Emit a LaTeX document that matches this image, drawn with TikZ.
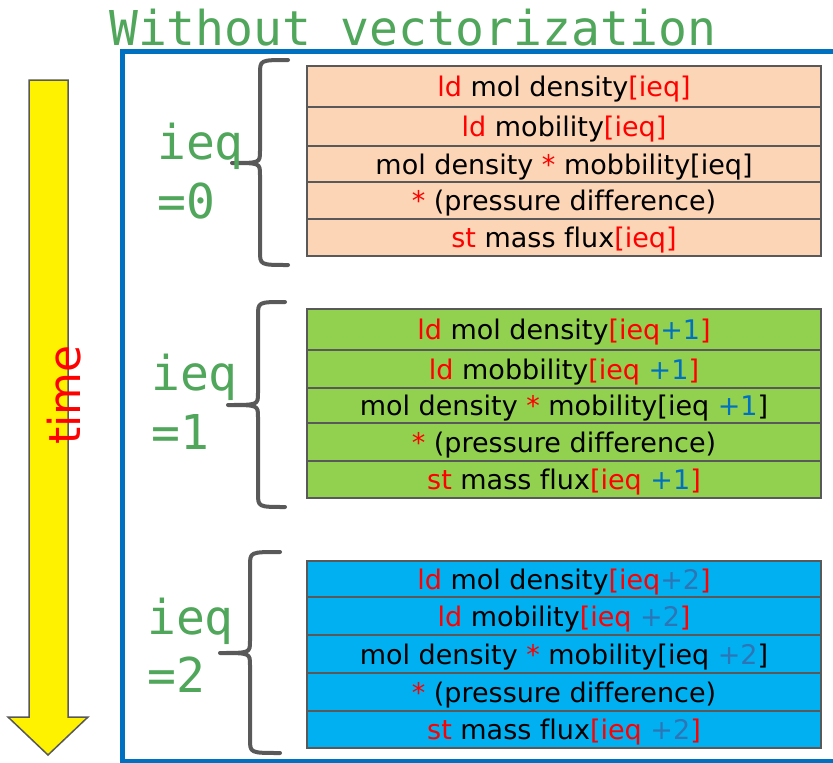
\documentclass[tikz,border=0pt]{standalone}
\usepackage{fontspec}
\setmainfont[Ligatures=NoCommon]{DejaVu Sans}
\newfontfamily\mymono{DejaVu Sans Mono}
\definecolor{titlegreen}{RGB}{80,166,90}
\definecolor{framecol}{RGB}{0,112,192}
\definecolor{gridgray}{RGB}{89,89,89}
\definecolor{peach}{RGB}{251,213,181}
\definecolor{lgreen}{RGB}{146,208,80}
\definecolor{lblue}{RGB}{0,176,240}
\definecolor{plusblue}{RGB}{0,112,192}
\definecolor{plusblueb}{RGB}{46,117,182}
\newcommand\myred[1]{\textcolor{red}{#1}}
\newcommand\myblue[1]{\textcolor{plusblue}{#1}}
\newcommand\mybluet[1]{\textcolor{plusblueb}{#1}}
\newcommand\drawbrace[6]{%
  \draw[bracestyle] (#1,#2) .. controls (#3,#2) .. (#3,#2+14) -- (#3,#5-12)
    .. controls (#3,#5) .. (#4,#5) .. controls (#3,#5) .. (#3,#5+12)
    -- (#3,#6-14) .. controls (#3,#6) .. (#1,#6);}
\begin{document}
\begin{tikzpicture}[x=1pt,y=-1pt,
  rowbox/.style={draw=gridgray, line width=1.5pt, minimum width=514pt, inner sep=0pt,
    text height=24pt, text depth=4pt, font=\fontsize{27}{32}\selectfont},
  peachrow/.style={rowbox, fill=peach},
  greenrow/.style={rowbox, fill=lgreen},
  bluerow/.style={rowbox, fill=lblue},
  bracestyle/.style={draw=gridgray, line width=4pt, line cap=round, line join=round},
  ieqlabel/.style={anchor=base west, inner sep=0pt, text=titlegreen, font=\mymono\fontsize{48}{56}\selectfont}]
\useasboundingbox (0,0) rectangle (833,763);
\fill[white] (0,0) rectangle (833,763);

% title
\node[ieqlabel] (title) at (109,45) {Without vectorization};

% blue frame
\draw[framecol, line width=5pt] (122.5,51.5) rectangle (860,761);

% yellow time arrow
\draw[fill=yellow, draw=gridgray, line width=1.5pt, line join=miter]
  (29,80) -- (68,80) -- (68,717) -- (88,717) -- (48,755) -- (8,717) -- (29,717) -- cycle;
\node[rotate=90, inner sep=0pt, text=red, font=\fontsize{44}{50}\selectfont] (time) at (64.5,395) {time};

% group 0
\node[peachrow, minimum height=41pt] (r0a) at (564,86.5) {\myred{ld} mol density\myred{[ieq]}};
\node[peachrow, minimum height=39pt] (r0b) at (564,126.5) {\myred{ld} mobility\myred{[ieq]}};
\node[peachrow, minimum height=36pt] (r0c) at (564,164) {mol density \myred{*} mobbility[ieq]};
\node[peachrow, minimum height=37pt] (r0d) at (564,200.5) {\myred{*} (pressure difference)};
\node[peachrow, minimum height=37pt] (r0e) at (564,237.5) {\myred{st} mass flux\myred{[ieq]}};

% group 1
\node[greenrow, minimum height=41pt] (r1a) at (564,329.5) {\myred{ld} mol density\myred{[ieq}\myblue{+1}\myred{]}};
\node[greenrow, minimum height=38pt] (r1b) at (564,369) {\myred{ld} mobbility\myred{[ieq }\myblue{+1}\myred{]}};
\node[greenrow, minimum height=35pt] (r1c) at (564,405.5) {mol density \myred{*} mobility[ieq \myblue{+1}]};
\node[greenrow, minimum height=38pt] (r1d) at (564,442) {\myred{*} (pressure difference)};
\node[greenrow, minimum height=37pt] (r1e) at (564,479.5) {\myred{st} mass flux\myred{[ieq }\myblue{+1}\myred{]}};

% group 2
\node[bluerow, minimum height=36pt] (r2a) at (564,579) {\myred{ld} mol density\myred{[ieq}\mybluet{+2}\myred{]}};
\node[bluerow, minimum height=38pt] (r2b) at (564,616) {\myred{ld} mobility\myred{[ieq }\mybluet{+2}\myred{]}};
\node[bluerow, minimum height=38pt] (r2c) at (564,654) {mol density \myred{*} mobility[ieq \mybluet{+2}]};
\node[bluerow, minimum height=38pt] (r2d) at (564,692) {\myred{*} (pressure difference)};
\node[bluerow, minimum height=37pt] (r2e) at (564,729.5) {\myred{st} mass flux\myred{[ieq }\mybluet{+2}\myred{]}};

% braces
\drawbrace{288}{60}{260}{232}{163}{265}
\drawbrace{285}{302}{258}{228}{405}{507}
\drawbrace{280}{552}{250}{220}{653}{753}

% ieq labels
\node[ieqlabel] (l0a) at (157,159) {ieq};
\node[ieqlabel] (l0b) at (157,218) {=0};
\node[ieqlabel] (l1a) at (151,390) {ieq};
\node[ieqlabel] (l1b) at (151,449) {=1};
\node[ieqlabel] (l2a) at (147,634) {ieq};
\node[ieqlabel] (l2b) at (147,692) {=2};
\end{tikzpicture}
\end{document}
